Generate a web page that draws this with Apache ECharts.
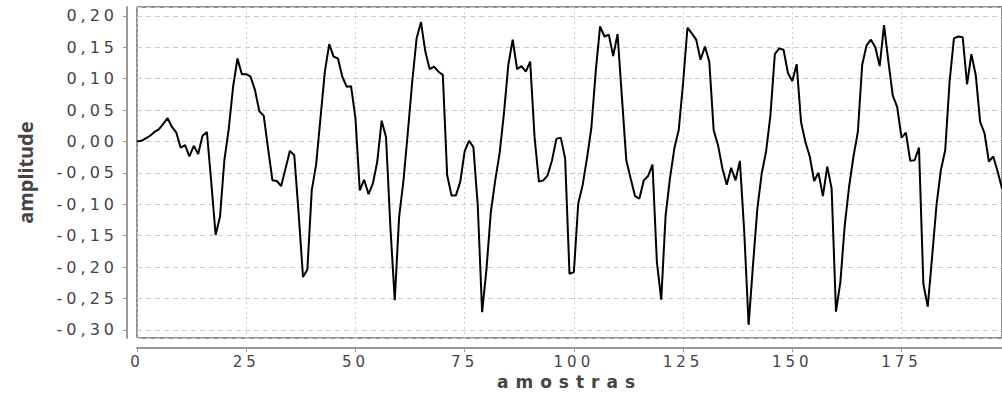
<!DOCTYPE html>
<html>
<head>
<meta charset="UTF-8">
<title></title>
<script src="https://cdn.jsdelivr.net/npm/echarts@6/dist/echarts.min.js"></script>
<style>
  body { margin: 0; background: #fff; }
  /* wide, spaced-out tick labels like the original */
  #main text[style*="DejaVu"] { letter-spacing: 4px; }
  #main text[style*="DejaVu"][style*="bold"] { letter-spacing: 7px; }
</style>
</head>
<body>
<div id="main" style="width: 1002px;height:403px;"></div>
<script type="text/javascript">
// amplitude per sample (sample index = position in array)
var amplitude = [
  0.000, 0.001, 0.005, 0.009, 0.015, 0.019, 0.028, 0.037, 0.023, 0.014,
  -0.010, -0.006, -0.024, -0.007, -0.020, 0.009, 0.015, -0.065, -0.149, -0.120,
  -0.030, 0.020, 0.087, 0.132, 0.107, 0.107, 0.103, 0.082, 0.048, 0.041,
  -0.011, -0.062, -0.063, -0.071, -0.043, -0.015, -0.022, -0.115, -0.216, -0.204,
  -0.078, -0.037, 0.037, 0.111, 0.155, 0.135, 0.132, 0.103, 0.087, 0.088,
  0.037, -0.078, -0.061, -0.084, -0.067, -0.032, 0.033, 0.007, -0.136, -0.253,
  -0.120, -0.062, 0.015, 0.095, 0.164, 0.190, 0.143, 0.115, 0.119, 0.111,
  0.106, -0.054, -0.086, -0.086, -0.064, -0.016, 0.001, -0.009, -0.102, -0.272,
  -0.203, -0.112, -0.062, -0.019, 0.045, 0.122, 0.162, 0.115, 0.120, 0.111,
  0.127, 0.007, -0.064, -0.062, -0.054, -0.030, 0.004, 0.006, -0.027, -0.211,
  -0.208, -0.099, -0.070, -0.027, 0.021, 0.111, 0.183, 0.167, 0.170, 0.136,
  0.171, 0.070, -0.030, -0.059, -0.087, -0.091, -0.062, -0.055, -0.037, -0.192,
  -0.252, -0.118, -0.059, -0.011, 0.018, 0.093, 0.181, 0.172, 0.162, 0.130,
  0.151, 0.127, 0.018, -0.006, -0.043, -0.069, -0.042, -0.062, -0.031, -0.144,
  -0.292, -0.197, -0.107, -0.051, -0.016, 0.042, 0.139, 0.148, 0.146, 0.109,
  0.096, 0.123, 0.031, -0.001, -0.024, -0.063, -0.050, -0.087, -0.040, -0.075,
  -0.271, -0.224, -0.134, -0.072, -0.024, 0.015, 0.122, 0.153, 0.162, 0.150,
  0.120, 0.185, 0.127, 0.073, 0.055, 0.006, 0.014, -0.031, -0.030, -0.010,
  -0.227, -0.263, -0.184, -0.102, -0.046, -0.014, 0.095, 0.164, 0.167, 0.166,
  0.091, 0.139, 0.105, 0.031, 0.013, -0.032, -0.024, -0.048, -0.075
];
var xTitle = 'amostras';
var yTitle = 'amplitude';

var points = [];
for (var i = 0; i < amplitude.length; i++) {
  points.push([i, amplitude[i]]);
}

var labelFont = 'DejaVu Sans';

option = {
  animation: false,
  grid: {
    left: 137,
    top: 7,
    right: -2,
    bottom: 65,
    show: true,
    borderColor: '#222',
    borderWidth: 1
  },
  xAxis: {
    type: 'value',
    min: 0,
    max: 198,
    interval: 25,
    offset: 10,
    name: xTitle,
    nameLocation: 'middle',
    nameGap: 25,
    nameTextStyle: { fontFamily: labelFont, fontWeight: 'bold', fontSize: 17, color: '#444' },
    axisLine: { onZero: false, lineStyle: { color: '#999', width: 2 } },
    axisTick: { length: 4, lineStyle: { color: '#999', width: 1 } },
    axisLabel: {
      showMaxLabel: false,
      margin: 6,
      fontFamily: labelFont,
      fontSize: 15,
      color: '#444'
    },
    splitLine: { show: true, lineStyle: { color: '#ccc', type: [2, 3], width: 1 } }
  },
  yAxis: {
    type: 'value',
    min: -0.313,
    max: 0.214,
    splitNumber: 10,
    offset: 10,
    name: yTitle,
    nameLocation: 'middle',
    nameGap: 92,
    nameTextStyle: { fontFamily: 'Noto Sans', fontWeight: 'bold', fontSize: 20, color: '#444' },
    axisLine: { show: true, onZero: false, lineStyle: { color: '#999', width: 2 } },
    axisTick: { show: true, length: 4, lineStyle: { color: '#999', width: 1 } },
    axisLabel: {
      showMinLabel: false,
      showMaxLabel: false,
      margin: 9,
      fontFamily: labelFont,
      fontSize: 16,
      color: '#444',
      formatter: function (v) { return v.toFixed(2).replace('.', ','); }
    },
    splitLine: { show: true, lineStyle: { color: '#ccc', type: [5, 4], width: 1 } }
  },
  series: [{
    type: 'line',
    data: points,
    showSymbol: false,
    lineStyle: { color: '#000', width: 2 }
  }]
};

echarts.init(document.getElementById('main'), null, { renderer: 'svg' }).setOption(option);
</script>
</body>
</html>
